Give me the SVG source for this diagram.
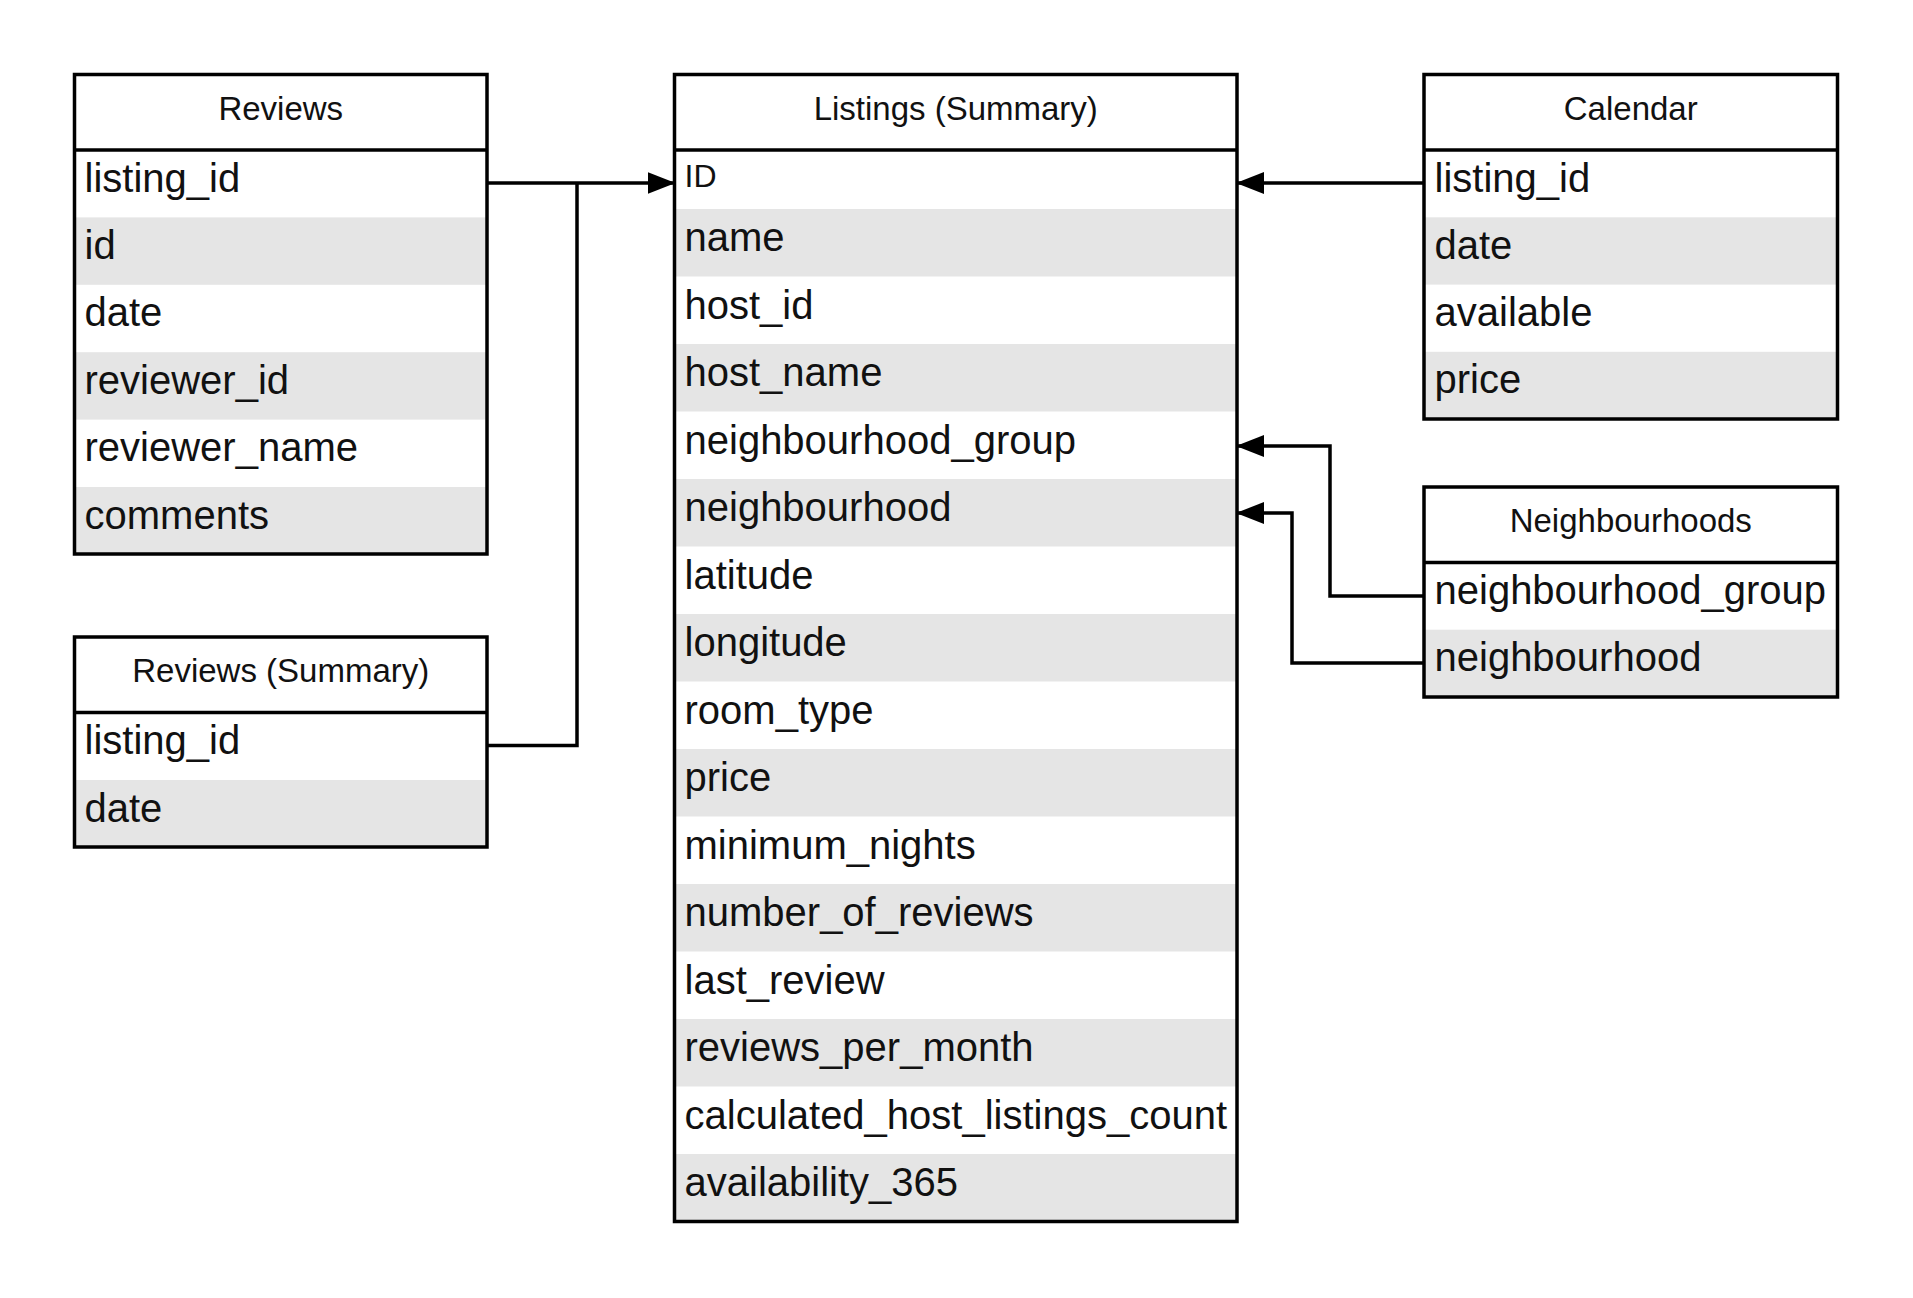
<svg xmlns="http://www.w3.org/2000/svg" width="1913" height="1298" viewBox="0 0 1913 1298">
<style>
.bg{fill:#ffffff}
.g{fill:#e5e5e5}
.box{fill:none;stroke:#000;stroke-width:3.5}
.sep{stroke:#000;stroke-width:3.5}
.h{font-family:"Liberation Sans",Arial,sans-serif;font-size:33px;fill:#111;text-anchor:middle}
.f{font-family:"Liberation Sans",Arial,sans-serif;font-size:40px;fill:#111}
.fs{font-family:"Liberation Sans",Arial,sans-serif;font-size:32px;fill:#111}
.c{fill:none;stroke:#000;stroke-width:3.5}
</style>
<defs>
<marker id="arr" markerUnits="userSpaceOnUse" markerWidth="28" markerHeight="22" refX="27" refY="11" orient="auto">
<path d="M0,0 L28,11 L0,22 z" fill="#000"/>
</marker>
</defs>
<rect x="0" y="0" width="1913" height="1298" fill="#fff"/>

<g id="reviews">
<rect class="bg" x="74.5" y="74.5" width="412.5" height="479.5"/>
<rect class="g" x="74.5" y="217.4" width="412.5" height="67.4"/>
<rect class="g" x="74.5" y="352.2" width="412.5" height="67.4"/>
<rect class="g" x="74.5" y="487" width="412.5" height="67"/>
<line class="sep" x1="74.5" y1="150" x2="487" y2="150"/>
<rect class="box" x="74.5" y="74.5" width="412.5" height="479.5"/>
<text class="h" x="280.75" y="119.5">Reviews</text>
<text class="f" x="84.5" y="191.5">listing_id</text>
<text class="f" x="84.5" y="258.9">id</text>
<text class="f" x="84.5" y="326.3">date</text>
<text class="f" x="84.5" y="393.7">reviewer_id</text>
<text class="f" x="84.5" y="461.1">reviewer_name</text>
<text class="f" x="84.5" y="528.5">comments</text>
</g>

<g id="reviews-summary">
<rect class="bg" x="74.5" y="637" width="412.5" height="210"/>
<rect class="g" x="74.5" y="780" width="412.5" height="67"/>
<line class="sep" x1="74.5" y1="712.5" x2="487" y2="712.5"/>
<rect class="box" x="74.5" y="637" width="412.5" height="210"/>
<text class="h" x="280.75" y="682">Reviews (Summary)</text>
<text class="f" x="84.5" y="754">listing_id</text>
<text class="f" x="84.5" y="821.5">date</text>
</g>

<g id="listings">
<rect class="bg" x="674.5" y="74.5" width="562.5" height="1147"/>
<rect class="g" x="674.5" y="209" width="562.5" height="67.5"/>
<rect class="g" x="674.5" y="344" width="562.5" height="67.5"/>
<rect class="g" x="674.5" y="479" width="562.5" height="67.5"/>
<rect class="g" x="674.5" y="614" width="562.5" height="67.5"/>
<rect class="g" x="674.5" y="749" width="562.5" height="67.5"/>
<rect class="g" x="674.5" y="884" width="562.5" height="67.5"/>
<rect class="g" x="674.5" y="1019" width="562.5" height="67.5"/>
<rect class="g" x="674.5" y="1154" width="562.5" height="67.5"/>
<line class="sep" x1="674.5" y1="150" x2="1237" y2="150"/>
<rect class="box" x="674.5" y="74.5" width="562.5" height="1147"/>
<text class="h" x="955.75" y="119.5">Listings (Summary)</text>
<text class="fs" x="684.5" y="187">ID</text>
<text class="f" x="684.5" y="251">name</text>
<text class="f" x="684.5" y="318.5">host_id</text>
<text class="f" x="684.5" y="386">host_name</text>
<text class="f" x="684.5" y="453.5">neighbourhood_group</text>
<text class="f" x="684.5" y="521">neighbourhood</text>
<text class="f" x="684.5" y="588.5">latitude</text>
<text class="f" x="684.5" y="656">longitude</text>
<text class="f" x="684.5" y="723.5">room_type</text>
<text class="f" x="684.5" y="791">price</text>
<text class="f" x="684.5" y="858.5">minimum_nights</text>
<text class="f" x="684.5" y="926">number_of_reviews</text>
<text class="f" x="684.5" y="993.5">last_review</text>
<text class="f" x="684.5" y="1061">reviews_per_month</text>
<text class="f" x="684.5" y="1128.5">calculated_host_listings_count</text>
<text class="f" x="684.5" y="1196">availability_365</text>
</g>

<g id="calendar">
<rect class="bg" x="1424" y="74.5" width="413.5" height="344.5"/>
<rect class="g" x="1424" y="217.3" width="413.5" height="67.3"/>
<rect class="g" x="1424" y="351.8" width="413.5" height="67.2"/>
<line class="sep" x1="1424" y1="150" x2="1837.5" y2="150"/>
<rect class="box" x="1424" y="74.5" width="413.5" height="344.5"/>
<text class="h" x="1630.75" y="119.5">Calendar</text>
<text class="f" x="1434.5" y="191.5">listing_id</text>
<text class="f" x="1434.5" y="258.8">date</text>
<text class="f" x="1434.5" y="326.1">available</text>
<text class="f" x="1434.5" y="393.4">price</text>
</g>

<g id="neighbourhoods">
<rect class="bg" x="1424" y="487" width="413.5" height="210"/>
<rect class="g" x="1424" y="629.7" width="413.5" height="67.3"/>
<line class="sep" x1="1424" y1="562.5" x2="1837.5" y2="562.5"/>
<rect class="box" x="1424" y="487" width="413.5" height="210"/>
<text class="h" x="1630.75" y="532">Neighbourhoods</text>
<text class="f" x="1434.5" y="604">neighbourhood_group</text>
<text class="f" x="1434.5" y="671.3">neighbourhood</text>
</g>

<g id="connectors">
<path class="c" d="M487,183 L674.5,183" marker-end="url(#arr)"/>
<path class="c" d="M487,745.5 L577,745.5 L577,183"/>
<path class="c" d="M1424,183 L1237,183" marker-end="url(#arr)"/>
<path class="c" d="M1424,596 L1330,596 L1330,446 L1237,446" marker-end="url(#arr)"/>
<path class="c" d="M1424,663 L1292,663 L1292,513 L1237,513" marker-end="url(#arr)"/>
</g>
</svg>
